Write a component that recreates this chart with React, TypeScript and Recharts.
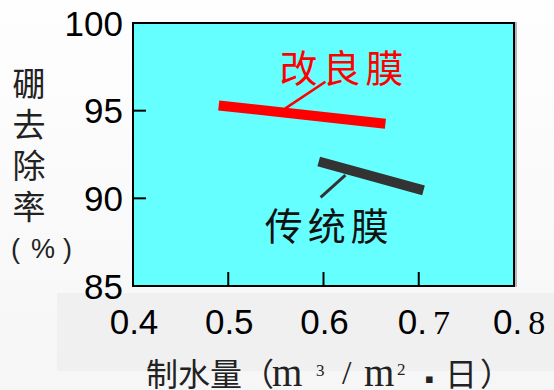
import React from 'react';
import { ComposedChart, Line, XAxis, YAxis } from 'recharts';

// Axis ticks and their printed labels
const xTicks = [0.4, 0.5, 0.6, 0.7, 0.8];
const xTickLabels = ['0.4', '0.5', '0.6', '0. 7', '0. 8'];
const yTicks = [85, 90, 95, 100];

// Boron removal (%) vs. permeate flux (m3/m2·day)
const improvedMembrane = [
  { flux: 0.49, removal: 95.3 },
  { flux: 0.665, removal: 94.25 },
];
const conventionalMembrane = [
  { flux: 0.595, removal: 92.1 },
  { flux: 0.705, removal: 90.45 },
];

// Leader lines from the series names to their lines (first point carries the name)
const improvedLeader = [
  { flux: 0.602, removal: 96.65 },
  { flux: 0.56, removal: 95.13 },
];
const conventionalLeader = [
  { flux: 0.597, removal: 90.06 },
  { flux: 0.623, removal: 91.33 },
];

const seriesNames = { improved: '改良膜', conventional: '传统膜' };
const yTitleChars = ['硼', '去', '除', '率'];

const SANS = '"Liberation Sans", Arial, sans-serif';
const SERIF = '"Liberation Serif", "DejaVu Serif", serif';
const CJK = '"Noto Sans CJK SC", "Noto Sans", sans-serif';

const CHART_W = 554;
const CHART_H = 390;
const MARGIN = { top: 23, right: 40, bottom: 64, left: 73 };
const Y_AXIS_W = 60;
const X_AXIS_H = 40;
const PLOT = {
  left: MARGIN.left + Y_AXIS_W,
  top: MARGIN.top,
  width: CHART_W - MARGIN.left - Y_AXIS_W - MARGIN.right,
  height: CHART_H - MARGIN.top - MARGIN.bottom - X_AXIS_H,
};
const PLOT_BOTTOM = PLOT.top + PLOT.height;
const TICK_LEN_X = 14;
const TICK_LEN_Y = 13;
const FRAME = 2;

// Y ticks: short inward mark plus a right-aligned label
const YTick = (props: any) => {
  const { payload, index } = props;
  const cy = payload.coordinate;
  return (
    <g key={`yt-${index}`}>
      <line x1={PLOT.left} x2={PLOT.left + TICK_LEN_Y} y1={cy} y2={cy} stroke="#000" strokeWidth={2} />
      <text x={PLOT.left - 10} y={cy + 12.5} textAnchor="end" fontFamily={SANS} fontSize={35} fill="#000">
        {payload.value}
      </text>
    </g>
  );
};

// X ticks: inward mark; labels with a spaced serif last digit are split into two runs
const XTick = (props: any) => {
  const { payload, index } = props;
  const cx = payload.coordinate;
  const label = xTickLabels[xTicks.indexOf(payload.value)] ?? String(payload.value);
  const baseline = PLOT_BOTTOM + 47.5;
  let text;
  if (label.includes(' ')) {
    const [head, tail] = label.split(' ');
    text = (
      <text x={cx - 21} y={baseline} textAnchor="start" fill="#000">
        <tspan fontFamily={SANS} fontSize={35}>{head}</tspan>
        <tspan fontFamily={SERIF} fontSize={34} dx={6}>{tail}</tspan>
      </text>
    );
  } else {
    text = (
      <text x={cx + 1} y={baseline} textAnchor="middle" fontFamily={SANS} fontSize={35} fill="#000">
        {label}
      </text>
    );
  }
  return (
    <g key={`xt-${index}`}>
      <line x1={cx} x2={cx} y1={PLOT_BOTTOM} y2={PLOT_BOTTOM - TICK_LEN_X} stroke="#000" strokeWidth={2} />
      {text}
    </g>
  );
};

const nameDot = (name: string, color: string, dx: number, dy: number) => (p: any) => {
  if (p.index !== 0) return <g key={`d-${p.index}`} />;
  return (
    <text
      key={`d-${p.index}`}
      x={p.cx + dx}
      y={p.cy + dy}
      fontFamily={CJK}
      fontSize={38}
      letterSpacing={5}
      fill={color}
    >
      {name}
    </text>
  );
};

export default function App() {
  return (
    <div
      style={{
        position: 'absolute',
        left: 0,
        top: 0,
        width: CHART_W,
        height: CHART_H,
        overflow: 'hidden',
        background: 'linear-gradient(#fefefe, #f6f6f6)',
      }}
    >
      <div
        style={{ position: 'absolute', left: 57, top: 293, width: 497, height: 78, background: '#f0f0f0' }}
      />
      {/* plot background and frame */}
      <div
        style={{
          position: 'absolute',
          boxSizing: 'border-box',
          left: PLOT.left - FRAME / 2,
          top: PLOT.top - FRAME / 2,
          width: PLOT.width + FRAME,
          height: PLOT.height + FRAME,
          background: '#66ffff',
          border: `${FRAME}px solid #000`,
          boxShadow: '2px 0 0 #b8b8b8',
        }}
      />
      <div style={{ position: 'absolute', left: 0, top: 0 }}>
        <ComposedChart width={CHART_W} height={CHART_H} margin={MARGIN}>
          <XAxis
            type="number"
            dataKey="flux"
            domain={[0.4, 0.8]}
            ticks={xTicks}
            interval={0}
            allowDataOverflow
            axisLine={false}
            tickLine={false}
            tick={XTick}
            height={X_AXIS_H}
          />
          <YAxis
            type="number"
            dataKey="removal"
            domain={[85, 100]}
            ticks={yTicks}
            interval={0}
            allowDataOverflow
            axisLine={false}
            tickLine={false}
            tick={YTick}
            width={Y_AXIS_W}
          />
          <Line
            data={improvedLeader}
            dataKey="removal"
            type="linear"
            stroke="#ff0000"
            strokeWidth={2.5}
            dot={nameDot(seriesNames.improved, '#ff0000', -46, 0)}
            activeDot={false}
            isAnimationActive={false}
          />
          <Line
            data={conventionalLeader}
            dataKey="removal"
            type="linear"
            stroke="#333333"
            strokeWidth={3}
            dot={nameDot(seriesNames.conventional, '#111111', -56, 43)}
            activeDot={false}
            isAnimationActive={false}
          />
          <Line
            data={improvedMembrane}
            dataKey="removal"
            name={seriesNames.improved}
            type="linear"
            stroke="#ff0000"
            strokeWidth={10}
            dot={false}
            activeDot={false}
            isAnimationActive={false}
          />
          <Line
            data={conventionalMembrane}
            dataKey="removal"
            name={seriesNames.conventional}
            type="linear"
            stroke="#333333"
            strokeWidth={10}
            dot={false}
            activeDot={false}
            isAnimationActive={false}
          />
        </ComposedChart>
      </div>
      <svg
        width={CHART_W}
        height={CHART_H}
        style={{ position: 'absolute', left: 0, top: 0, pointerEvents: 'none' }}
      >
        {/* vertical y-axis title */}
        <text fontFamily={CJK} fontSize={33} fill="#222" textAnchor="middle">
          {yTitleChars.map((c, i) => (
            <tspan key={c} x={29} y={95.5 + i * 41.3}>
              {c}
            </tspan>
          ))}
        </text>
        <text fontFamily={SANS} fontSize={27} fill="#222" y={257.5}>
          <tspan x={11}>(</tspan>
          <tspan x={31}>%</tspan>
          <tspan x={63}>)</tspan>
        </text>
        {/* x-axis title: 制水量（m³/m²·日） */}
        <text fill="#222" fontFamily={CJK} fontSize={32}>
          <tspan x={146} y={386}>制水量（</tspan>
          <tspan x={272} y={386} fontFamily={SERIF} fontSize={39}>m</tspan>
          <tspan x={316} y={376} fontFamily={SERIF} fontSize={17}>3</tspan>
          <tspan x={342} y={384} fontFamily={SERIF} fontSize={34}>/</tspan>
          <tspan x={364} y={386} fontFamily={SERIF} fontSize={39}>m</tspan>
          <tspan x={397} y={375} fontFamily={SERIF} fontSize={17}>2</tspan>
          <tspan x={425} y={383} fontFamily='"DejaVu Sans", sans-serif' fontSize={13}>▪</tspan>
          <tspan x={445} y={386}>日</tspan>
          <tspan x={480} y={386}>）</tspan>
        </text>
      </svg>
    </div>
  );
}
